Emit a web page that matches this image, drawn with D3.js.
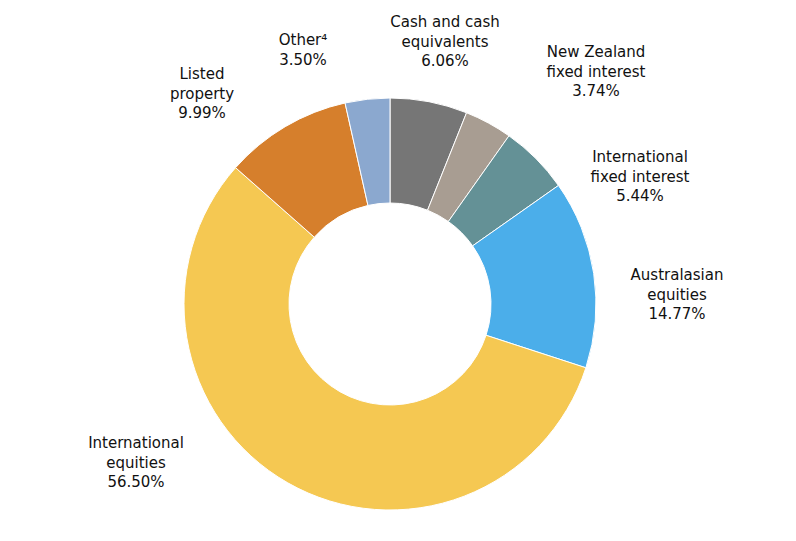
<!DOCTYPE html>
<html><head><meta charset="utf-8">
<script src="https://cdn.jsdelivr.net/npm/d3@7"></script>
<style>body{margin:0;background:#fff}text{font-family:"DejaVu Sans",Verdana,sans-serif;font-size:15px;fill:#111}</style>
</head><body><svg id="c" width="796" height="541"></svg>
<script>
// Data
const categories = ['Cash and cash equivalents','New Zealand fixed interest','International fixed interest','Australasian equities','International equities','Listed property','Other⁴'];
const values = [6.06, 3.74, 5.44, 14.77, 56.50, 9.99, 3.50];
const labelLines = [['Cash and cash','equivalents'],['New Zealand','fixed interest'],['International','fixed interest'],['Australasian','equities'],['International','equities'],['Listed','property'],['Other⁴']];
const colors = ['#767676','#a89d92','#649196','#4baeea','#f5c852','#d67f2c','#8ba8cf'];

const data = categories.map((c,i)=>({name:c,value:values[i],lines:labelLines[i].concat([values[i].toFixed(2)+'%']),color:colors[i]}));

const svg = d3.select('#c');
const cx = 390, cy = 304, outer = 206, inner = 101;
const g = svg.append('g').attr('transform',`translate(${cx},${cy})`);
const pie = d3.pie().value(d=>d.value).sort(null);
const arc = d3.arc().innerRadius(inner).outerRadius(outer);
const arcs = pie(data);

g.selectAll('path').data(arcs).enter().append('path')
  .attr('d',arc).attr('fill',d=>d.data.color)
  .attr('stroke','#fff').attr('stroke-width',1);

// label anchor points (top line baseline), relative to page
const labelAt = {
  'Cash and cash equivalents':[445,27],
  'New Zealand fixed interest':[596,57],
  'International fixed interest':[640,162],
  'Australasian equities':[677,280],
  'International equities':[136,448],
  'Listed property':[202,79],
  'Other⁴':[303,45]
};
arcs.forEach(a=>{
  const p = labelAt[a.data.name];
  const t = svg.append('text').attr('text-anchor','middle');
  a.data.lines.forEach((l,i)=>t.append('tspan').attr('x',p[0]).attr('y',p[1]+i*19.5).text(l));
});
</script></body></html>
